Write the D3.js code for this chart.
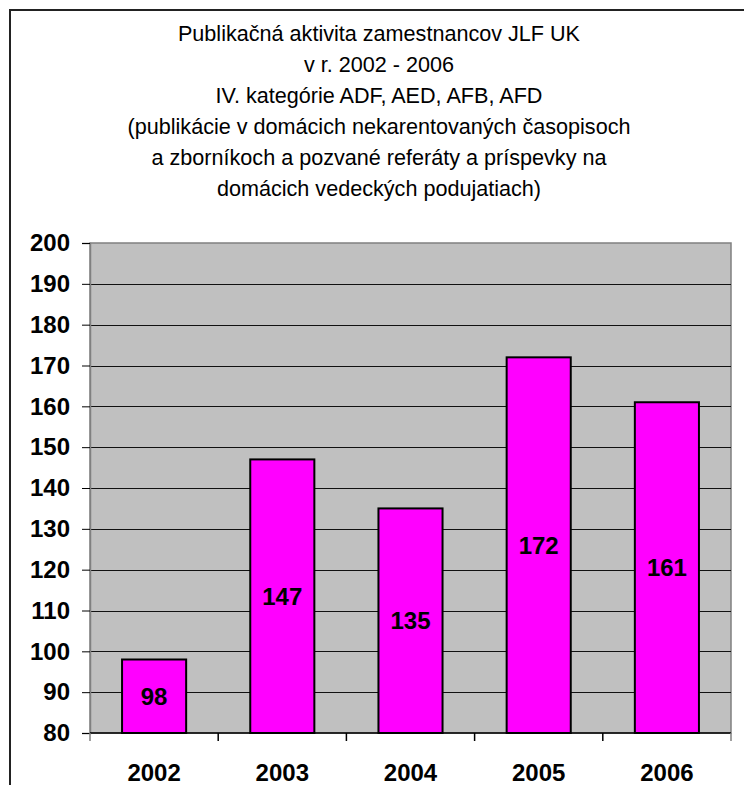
<!DOCTYPE html>
<html>
<head>
<meta charset="utf-8">
<script src="https://cdn.jsdelivr.net/npm/d3@7"></script>
<style>
  body { margin: 0; background: #fff; }
  text { font-family: Arial, "Liberation Sans", sans-serif; }
</style>
</head>
<body>
<div id="chart"></div>
<script>
// data
var years = ["2002", "2003", "2004", "2005", "2006"];
var counts = [98, 147, 135, 172, 161];
var yTicks = [80, 90, 100, 110, 120, 130, 140, 150, 160, 170, 180, 190, 200];
var titleLines = [
    "Publikačná aktivita zamestnancov JLF UK",
    "v r. 2002 - 2006",
    "IV. kategórie ADF, AED, AFB, AFD",
    "(publikácie v domácich nekarentovaných časopisoch",
    "a zborníkoch a pozvané referáty a príspevky na",
    "domácich vedeckých podujatiach)"
];

var W = 744, H = 785;
var plot = {left: 90, right: 731, top: 243, bottom: 733};

var svg = d3.select("#chart").append("svg")
    .attr("width", W)
    .attr("height", H);

// outer frame (only left + top visible in the crop)
svg.append("rect")
    .attr("x", 10).attr("y", 10)
    .attr("width", W + 20).attr("height", H + 20)
    .style("fill", "none")
    .style("stroke", "#222")
    .style("stroke-width", 2);

// title
svg.append("g").selectAll("text")
    .data(titleLines)
    .enter()
    .append("text")
    .attr("x", 379)
    .attr("y", function(d, i) { return 41 + i * 31; })
    .attr("text-anchor", "middle")
    .style("font-size", "21.6px")
    .attr("fill", "#000")
    .text(function(d) { return d; });

var x = d3.scaleBand()
    .domain(years)
    .range([plot.left, plot.right])
    .paddingInner(0.5)
    .paddingOuter(0.25);

var y = d3.scaleLinear()
    .domain([80, 200])
    .range([plot.bottom, plot.top]);

// plot background
svg.append("rect")
    .attr("x", plot.left)
    .attr("y", plot.top)
    .attr("width", plot.right - plot.left)
    .attr("height", plot.bottom - plot.top)
    .style("fill", "#c0c0c0")
    .style("stroke", "#808080")
    .style("stroke-width", 1.5);

// grid lines
svg.append("g").selectAll("line")
    .data(yTicks.slice(1, -1))
    .enter()
    .append("line")
    .attr("x1", plot.left)
    .attr("x2", plot.right)
    .attr("y1", function(d) { return Math.round(y(d)) + 0.5; })
    .attr("y2", function(d) { return Math.round(y(d)) + 0.5; })
    .style("stroke", "#111")
    .style("stroke-width", 1);

// bars
svg.append("g").selectAll("rect")
    .data(counts)
    .enter()
    .append("rect")
    .attr("x", function(d, i) { return x(years[i]); })
    .attr("y", function(d) { return y(d); })
    .attr("width", x.bandwidth())
    .attr("height", function(d) { return y(80) - y(d); })
    .style("fill", "#ff00ff")
    .style("stroke", "#000")
    .style("stroke-width", 2);

// value labels
svg.append("g").selectAll("text")
    .data(counts)
    .enter()
    .append("text")
    .attr("x", function(d, i) { return x(years[i]) + x.bandwidth() / 2; })
    .attr("y", function(d) { return (y(d) + y(80)) / 2; })
    .attr("dy", "0.36em")
    .attr("text-anchor", "middle")
    .style("font-size", "24px")
    .style("font-weight", "bold")
    .text(function(d) { return d; });

// y axis
var yAxis = svg.append("g")
    .attr("transform", "translate(" + plot.left + ",0)")
    .call(d3.axisLeft(y).tickValues(yTicks).tickSize(8).tickPadding(12));
yAxis.select(".domain").style("stroke", "#808080").style("stroke-width", 1.5);
yAxis.selectAll(".tick line").style("stroke", "#000");
yAxis.selectAll(".tick text")
    .style("font-family", "Arial, 'Liberation Sans', sans-serif")
    .style("font-size", "24px")
    .style("font-weight", "bold")
    .attr("fill", "#000");

// x axis with ticks between categories
var xAxis = svg.append("g")
    .attr("transform", "translate(0," + plot.bottom + ")");
xAxis.append("line")
    .attr("x1", plot.left).attr("x2", plot.right)
    .attr("y1", 0).attr("y2", 0)
    .style("stroke", "#000")
    .style("stroke-width", 1.5);
xAxis.selectAll(".sep")
    .data(years.concat(["end"]))
    .enter()
    .append("line")
    .attr("class", "sep")
    .attr("x1", function(d, i) { return plot.left + i * (plot.right - plot.left) / years.length; })
    .attr("x2", function(d, i) { return plot.left + i * (plot.right - plot.left) / years.length; })
    .attr("y1", 0).attr("y2", 8)
    .style("stroke", function(d, i) { return i === 0 || i === years.length ? "#808080" : "#000"; })
    .style("stroke-width", 1.5);
xAxis.selectAll(".lbl")
    .data(years)
    .enter()
    .append("text")
    .attr("class", "lbl")
    .attr("x", function(d) { return x(d) + x.bandwidth() / 2; })
    .attr("y", 48)
    .attr("text-anchor", "middle")
    .style("font-size", "24px")
    .style("font-weight", "bold")
    .text(function(d) { return d; });
</script>
</body>
</html>
